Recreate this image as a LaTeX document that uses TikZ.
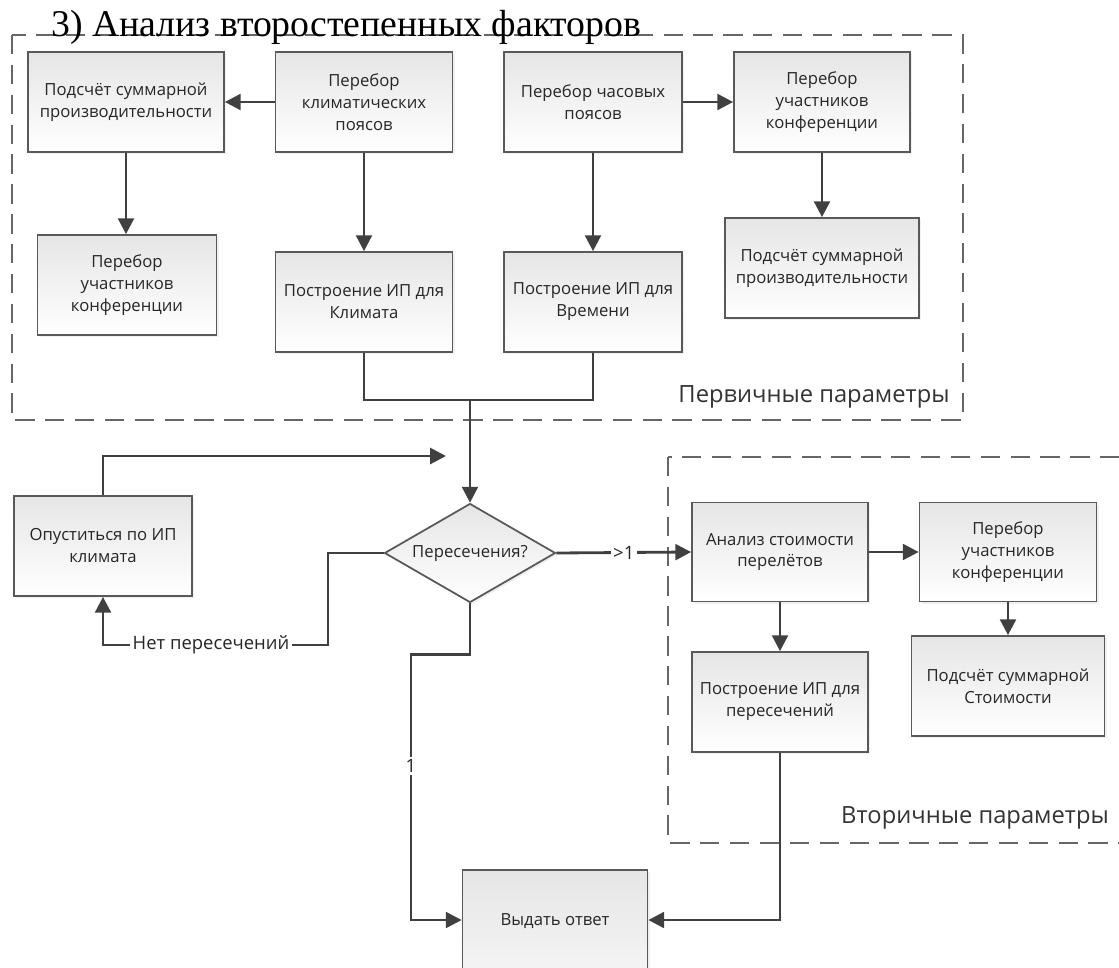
\documentclass[tikz,border=0pt]{standalone}
\usepackage{fontspec}
\setmainfont{Open Sans}
\newfontfamily\titlefont{Liberation Serif}
\usetikzlibrary{shapes.geometric,arrows.meta,shadows}
\tikzset{
  block/.style={draw=black!65, line width=1pt, top color=black!10, bottom color=white,
    drop shadow={opacity=0.12, shadow xshift=1.2pt, shadow yshift=-1.2pt},
    align=center, text=black!85, font=\fontsize{9.5}{12.5}\selectfont, inner sep=2pt},
  arr/.style={draw=black!75, line width=1.6pt, -{Triangle[length=9pt,width=9pt]}},
  wire/.style={draw=black!75, line width=1.6pt},
  frame/.style={draw=black!60, line width=1.5pt, dash pattern=on 11pt off 6pt},
  tag/.style={font=\fontsize{10.5}{12}\selectfont, text=black!85, fill=white, inner sep=1.5pt},
  zone/.style={font=\fontsize{13.5}{16}\selectfont, text=black!80},
}
\begin{document}
\begin{tikzpicture}[x=0.02cm, y=-0.02cm]
        \clip (0,0) rectangle (1119,967);
        % dashed frames
        \draw[frame] (12,35) rectangle (963,420);
        \draw[frame] (668,457) rectangle (1135,843);
        \node[anchor=base west, font=\titlefont\fontsize{21.5}{24}\selectfont] (title) at (45,36) {3) Анализ второстепенных факторов};
        % primary parameters
        \node[block, minimum width=3.92cm, minimum height=2cm] (sumProd) at (126,102) {Подсчёт суммарной\\производительности};
        \node[block, minimum width=3.54cm, minimum height=2cm] (climBelt) at (364,102) {Перебор\\климатических\\поясов};
        \node[block, minimum width=3.56cm, minimum height=2cm] (timeBelt) at (593,102) {Перебор часовых\\поясов};
        \node[block, minimum width=3.52cm, minimum height=2cm] (partA) at (822,102) {Перебор\\участников\\конференции};
        \node[block, minimum width=3.58cm, minimum height=2cm] (partB) at (127,285) {Перебор\\участников\\конференции};
        \node[block, minimum width=3.54cm, minimum height=2cm] (climIP) at (364,302) {Построение ИП для\\Климата};
        \node[block, minimum width=3.56cm, minimum height=2cm] (timeIP) at (593,302) {Построение ИП для\\Времени};
        \node[block, minimum width=3.88cm, minimum height=2cm] (sumProdB) at (822,268) {Подсчёт суммарной\\производительности};
        \node[zone] (prim) at (814,397) {Первичные параметры};
        \draw[arr] (climBelt.west) -- (sumProd.east);
        \draw[arr] (timeBelt.east) -- (partA.west);
        \draw[arr] (sumProd.south) -- (sumProd.south |- partB.north);
        \draw[arr] (climBelt.south) -- (climIP.north);
        \draw[arr] (timeBelt.south) -- (timeIP.north);
        \draw[arr] (partA.south) -- (sumProdB.north);
        % decision
        \coordinate (merge) at (470,400);
        \node[block, diamond, shape aspect=1.73, minimum width=3.42cm, minimum height=1.98cm, inner sep=0pt] (cross) at (470,553) {Пересечения?};
        \draw[wire] (climIP.south) |- (merge) -| (timeIP.south);
        \draw[arr] (merge) -- (cross.north);
        \node[block, minimum width=3.56cm, minimum height=2cm] (descend) at (103,546) {Опуститься по ИП\\климата};
        \coordinate (loopEnd) at (446,456);
        \draw[arr] (descend.north) |- (loopEnd);
        \coordinate (noTurn) at (328,645);
        \draw[arr] (cross.west) -| (noTurn) -| node[tag, pos=0.26] {Нет пересечений} (descend.south);
        % secondary parameters
        \node[block, minimum width=3.52cm, minimum height=1.98cm] (flightCost) at (780,552) {Анализ стоимости\\перелётов};
        \node[block, minimum width=3.54cm, minimum height=1.98cm] (partC) at (1008,552) {Перебор\\участников\\конференции};
        \node[block, minimum width=3.52cm, minimum height=2cm] (crossIP) at (780,702) {Построение ИП для\\пересечений};
        \node[block, minimum width=3.86cm, minimum height=2cm] (sumCost) at (1008,686) {Подсчёт суммарной\\Стоимости};
        \node[zone] (sec) at (975,818) {Вторичные параметры};
        \draw[arr] (cross.east) -- node[tag] {>1} (flightCost.west);
        \draw[arr] (flightCost.east) -- (partC.west);
        \draw[arr] (flightCost.south) -- (crossIP.north);
        \draw[arr] (partC.south) -- (partC.south |- sumCost.north);
        % answer
        \node[block, anchor=north, minimum width=3.7cm, minimum height=3.6cm, text depth=1.6cm] (answer) at (555,869) {Выдать ответ};
        \coordinate (oneBend) at (411,920);
        \draw[arr] (cross.south) -- ++(0,51) -| node[tag, pos=0.71] {1} (oneBend) -- (oneBend -| answer.west);
        \draw[arr] (crossIP.south) |- (oneBend -| answer.east);
    \end{tikzpicture}
\end{document}
